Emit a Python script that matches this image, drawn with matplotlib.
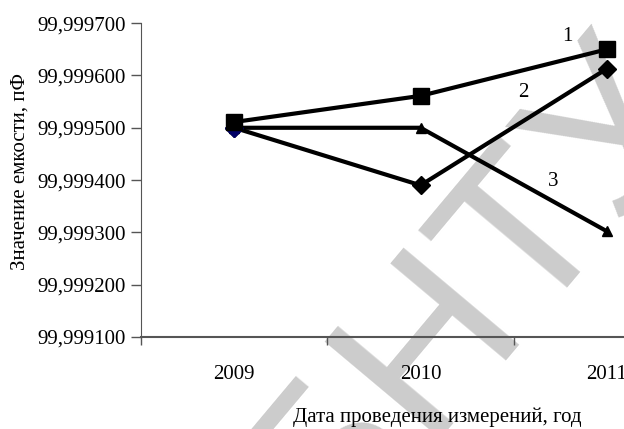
import matplotlib.pyplot as plt
from matplotlib.ticker import FuncFormatter, FixedLocator

plt.rcParams['font.family'] = ['Liberation Serif', 'DejaVu Serif']

years = ['2009', '2010', '2011']
series1 = [99.999511, 99.999561, 99.999650]   # квадраты
series2 = [99.999500, 99.999390, 99.999613]   # ромбы
series3 = [99.999500, 99.999500, 99.999302]   # треугольники
yticks = [99.9991, 99.9992, 99.9993, 99.9994, 99.9995, 99.9996, 99.9997]

fig = plt.figure(figsize=(6.24, 4.29), dpi=100)
ax = fig.add_axes([0.226, 0.2145, 0.896, 0.7315])

# водяной знак (под осями)
fig.text(0.756, 0.32, 'БНТУ', fontsize=158, color='#cccccc', rotation=50,
         ha='center', va='center', family='Liberation Sans', zorder=-1)
ax.set_facecolor('none')

x = range(len(years))
ax.plot(x, series3, color='black', lw=3, marker='^', ms=7, zorder=3)
ax.plot(x, series2, color='black', lw=3, marker='D', ms=9, zorder=4)
ax.plot(x[0], series2[0], 'D', color='#000066', ms=9, zorder=4)
ax.plot(x, series1, color='black', lw=3, marker='s', ms=11, zorder=5)

ax.text(1.79, 99.999674, '1', fontsize=15, ha='center', va='center')
ax.text(1.55, 99.999568, '2', fontsize=15, ha='center', va='center')
ax.text(1.71, 99.999398, '3', fontsize=15, ha='center', va='center')

ax.set_xlim(-0.5, 2.5)
ax.set_ylim(99.9991, 99.9997)
ax.set_xticks(list(x))
ax.set_xticklabels(years)
ax.xaxis.set_minor_locator(FixedLocator([-0.5, 0.5, 1.5, 2.5]))
ax.tick_params(axis='x', which='major', length=0, pad=20, labelsize=15)
ax.tick_params(axis='x', which='minor', length=6, width=1, color='#555555', direction='out')
ax.yaxis.set_major_locator(FixedLocator(yticks))
ax.yaxis.set_major_formatter(FuncFormatter(lambda v, p: f'{v:.6f}'.replace('.', ',')))
ax.tick_params(axis='y', length=7, width=1, color='#555555', pad=4, labelsize=15)

for s in ['top', 'right']:
    ax.spines[s].set_visible(False)
ax.spines['left'].set_color('#555555')
ax.spines['bottom'].set_color('#555555')
ax.spines['bottom'].set_linewidth(1.5)

fig.text(0.032, 0.60, 'Значение емкости, пФ', rotation=90, fontsize=15,
         ha='center', va='center')
fig.text(0.70, 0.027, 'Дата проведения измерений, год', fontsize=15,
         ha='center', va='center')

fig.savefig('out.png', dpi=100)
